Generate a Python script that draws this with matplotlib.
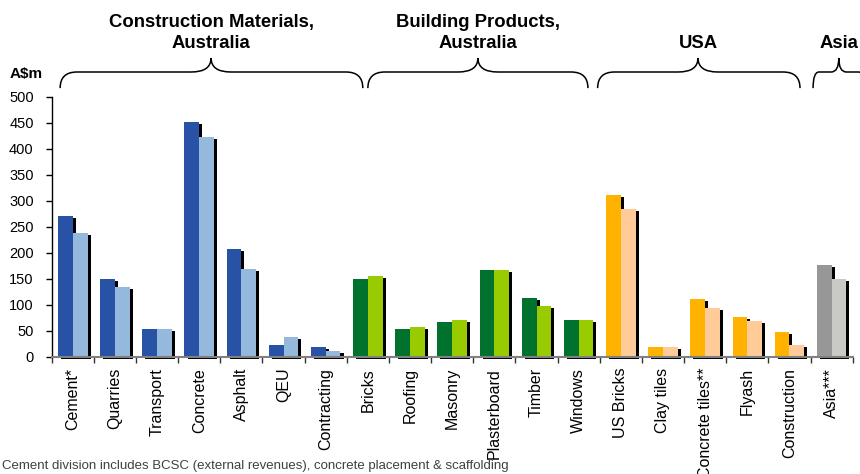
import matplotlib
matplotlib.use("Agg")
import matplotlib.pyplot as plt
from matplotlib.path import Path
from matplotlib.patches import PathPatch
from matplotlib.transforms import blended_transform_factory
import numpy as np

plt.rcParams['font.family'] = ['Liberation Sans', 'DejaVu Sans']

# Revenue by business unit, A$m (two periods per unit)
categories = ["Cement*", "Quarries", "Transport", "Concrete", "Asphalt", "QEU",
              "Contracting", "Bricks", "Roofing", "Masonry", "Plasterboard",
              "Timber", "Windows", "US Bricks", "Clay tiles", "Concrete tiles**",
              "Flyash", "Construction", "Asia***"]
period1 = [270, 150, 53, 451, 207, 23, 19, 149, 53, 67, 167, 113, 71,
           311, 19, 111, 76, 47, 176]
period2 = [238, 134, 53, 422, 169, 38, 11, 155, 57, 71, 167, 98, 71,
           284, 19, 94, 69, 22, 149]

group_names = ["Construction Materials,\nAustralia", "Building Products,\nAustralia",
               "USA", "Asia"]
group_sizes = [7, 6, 5, 1]

y_ticks = [0, 50, 100, 150, 200, 250, 300, 350, 400, 450, 500]
footnote = "Cement division includes BCSC (external revenues), concrete placement & scaffolding"

# Styling / layout
group_colors = [("#2752A6", "#95B8DD"), ("#00722D", "#99CC00"),
                ("#FFB300", "#FFCC99"), ("#979797", "#C9CAC4")]
# brace geometry: (left end, cusp, right end, end-curve width, cusp-curve width)
brace_specs = [(0.20, 3.78, 7.38, 0.40, 0.47),
               (7.50, 10.11, 12.72, 0.40, 0.47),
               (12.95, 15.33, 17.75, 0.40, 0.47),
               (18.06, 18.67, 19.28, 0.14, 0.18)]

W, H = 860, 474
fig = plt.figure(figsize=(W / 100, H / 100), dpi=100)
ax = fig.add_axes([51.7 / W, (H - 356.7) / H, 801 / W, 260 / H])

n = len(categories)
x = np.arange(n)
dark_cols, light_cols = [], []
for (c1, c2), size in zip(group_colors, group_sizes):
    dark_cols += [c1] * size
    light_cols += [c2] * size

bw = 0.35
x1 = x + 0.15
x2 = x + 0.50
sdx, sdy = 0.072, 4.0

# drop shadows
for xs, vals in ((x1, period1), (x2, period2)):
    ax.bar(xs + sdx, vals, width=bw, bottom=-sdy, align="edge",
           color="black", linewidth=0, zorder=1, clip_on=False)
ax.bar(x1, period1, width=bw, align="edge", color=dark_cols, linewidth=0, zorder=2)
ax.bar(x2, period2, width=bw, align="edge", color=light_cols, linewidth=0, zorder=2)

ax.set_xlim(0, n)
ax.set_ylim(0, 500)
ax.set_yticks(y_ticks)
ax.tick_params(axis="y", direction="out", length=4, width=1, pad=9,
               labelsize=10.5, colors="black")
ax.set_xticks(np.arange(n + 1))
ax.set_xticklabels([])
ax.tick_params(axis="x", direction="out", length=4, width=1, color="#333333")
ax.set_xticks(x + 0.5, minor=True)
ax.set_xticklabels(categories, minor=True, rotation=90, fontsize=11.5,
                   ha="center", va="top")
ax.tick_params(axis="x", which="minor", length=0, pad=8)

for s in ("top", "right"):
    ax.spines[s].set_visible(False)
ax.spines["left"].set_color("black")
ax.spines["left"].set_linewidth(1.0)
ax.spines["bottom"].set_color("#808080")
ax.spines["bottom"].set_linewidth(1.5)
ax.spines["bottom"].set_zorder(3)

# unit label
fig.text(10 / W, 1 - 74 / H, "A$m", fontsize=11, fontweight="bold",
         ha="left", va="center")

# group braces and headers
tr = blended_transform_factory(ax.transData, ax.transAxes)
yb, ym, yt = 1.033, 1.095, 1.149
for (xl, xc, xr, d_end, d_cusp), name in zip(brace_specs, group_names):
    verts = [(xl, yb), (xl, ym), (xl + d_end, ym),
             (xc - d_cusp, ym),
             (xc, ym), (xc, yt),
             (xc, ym), (xc + d_cusp, ym),
             (xr - d_end, ym),
             (xr, ym), (xr, yb)]
    codes = [Path.MOVETO, Path.CURVE3, Path.CURVE3,
             Path.LINETO,
             Path.CURVE3, Path.CURVE3,
             Path.CURVE3, Path.CURVE3,
             Path.LINETO,
             Path.CURVE3, Path.CURVE3]
    ax.add_patch(PathPatch(Path(verts, codes), transform=tr, fill=False,
                           edgecolor="black", linewidth=1.1, clip_on=False))
    ax.text(xc, 1.172, name, transform=tr, ha="center", va="bottom",
            fontsize=13.3, fontweight="bold", linespacing=1.3, clip_on=False)

fig.text(2 / W, 1 - 466 / H, footnote, fontsize=9.5, color="#404040",
         ha="left", va="center")

fig.savefig("out.png", dpi=100)
